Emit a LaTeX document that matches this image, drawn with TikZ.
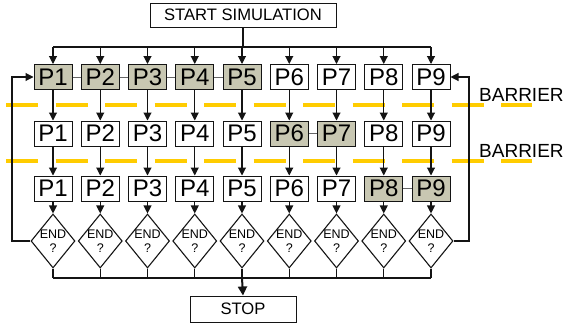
\documentclass[tikz,border=0pt]{standalone}
\usepackage{fontspec}
\setmainfont{Liberation Sans}
\usetikzlibrary{arrows.meta,shapes.geometric}
\definecolor{shade}{RGB}{200,199,178}
\definecolor{barrierc}{RGB}{255,204,0}
\definecolor{linec}{RGB}{20,20,20}
\tikzset{
  pbox/.style={draw=linec,line width=1pt,minimum width=38pt,minimum height=25pt,inner sep=0pt,fill=white,font=\fontsize{24}{24}\selectfont},
  pshade/.style={pbox,fill=shade},
  tbox/.style={draw=linec,line width=1pt,inner sep=0pt,fill=white,font=\fontsize{16.6}{16.6}\selectfont},
  dec/.style={draw=linec,line width=1.1pt,shape=diamond,minimum width=44pt,minimum height=54pt,inner sep=0pt,fill=white},
  dtext/.style={align=center,font=\fontsize{12.5}{14.5}\selectfont,inner sep=0pt},
  conn/.style={linec,line width=1.1pt},
  arr/.style={conn,-{Triangle[length=8pt,width=8pt]}},
  link/.style={draw=gray!80!black,line width=1pt},
  barrierline/.style={barrierc,line width=4pt,dash pattern=on 32pt off 17.5pt},
  blabel/.style={anchor=west,inner sep=0pt,font=\fontsize{19}{19}\selectfont}
}
\begin{document}
\begin{tikzpicture}[x=1pt,y=-1pt]
\useasboundingbox (0,0) rectangle (566,324);
% barriers
\draw[barrierline] (6,105) -- (532,105);
\draw[barrierline] (6,161) -- (532,161);
\node[blabel] (bl1) at (479,95) {BARRIER};
\node[blabel] (bl2) at (479,151) {BARRIER};
% start / stop
\node[tbox,minimum width=186pt,minimum height=24pt] (start) at (243,15) {START SIMULATION};
\node[tbox,minimum width=106pt,minimum height=26pt] (stop) at (243,309) {STOP};
% rows
\foreach \i in {1,...,9}{
  \pgfmathsetmacro{\xx}{53+47.25*(\i-1)}
  \coordinate (t\i) at (\xx,47);
  \coordinate (u\i) at (\xx,278);
  \ifnum\i<6
    \node[pshade] (a\i) at (\xx,77) {P\i};
  \else
    \node[pbox] (a\i) at (\xx,77) {P\i};
  \fi
  \ifnum\i=6
    \node[pshade] (b\i) at (\xx,133.5) {P\i};
  \else\ifnum\i=7
    \node[pshade] (b\i) at (\xx,133.5) {P\i};
  \else
    \node[pbox] (b\i) at (\xx,133.5) {P\i};
  \fi\fi
  \ifnum\i>7
    \node[pshade] (c\i) at (\xx,188.5) {P\i};
  \else
    \node[pbox] (c\i) at (\xx,188.5) {P\i};
  \fi
  \node[dec] (d\i) at (\xx,241) {};
  \node[dtext] (e\i) at (\xx,241) {END\\?};
}
% links between concurrent processes
\draw[link] (a1.east) -- (a2.west) (a2.east) -- (a3.west) (a3.east) -- (a4.west) (a4.east) -- (a5.west);
\draw[link] (b6.east) -- (b7.west);
\draw[link] (c8.east) -- (c9.west);
% start bus
\coordinate (sb) at (242,47);
\draw[linec,line width=2pt] (start.south) -- (start.south |- sb);
\draw[conn] (t1) -- (t9);
\foreach \i in {1,...,9}{
  \draw[arr] (t\i) -- (a\i.north);
  \draw[arr] (a\i.south) -- (b\i.north);
  \draw[arr] (b\i.south) -- (c\i.north);
  \draw[arr] (c\i.south) -- (d\i.north);
  \draw[conn] (d\i.south) -- (u\i);
}
\draw[conn] (u1) -- (u9);
\draw[linec,line width=2pt,-{Triangle[length=9pt,width=9pt]}] (u5) -- (stop.north);
% loops
\coordinate (l1) at (12,241);
\coordinate (l2) at (12,77);
\coordinate (r1) at (469,241);
\coordinate (r2) at (469,77);
\draw[arr] (d1.west) -- (l1) -- (l2) -- (a1.west);
\draw[arr] (d9.east) -- (r1) -- (r2) -- (a9.east);
\end{tikzpicture}
\end{document}
